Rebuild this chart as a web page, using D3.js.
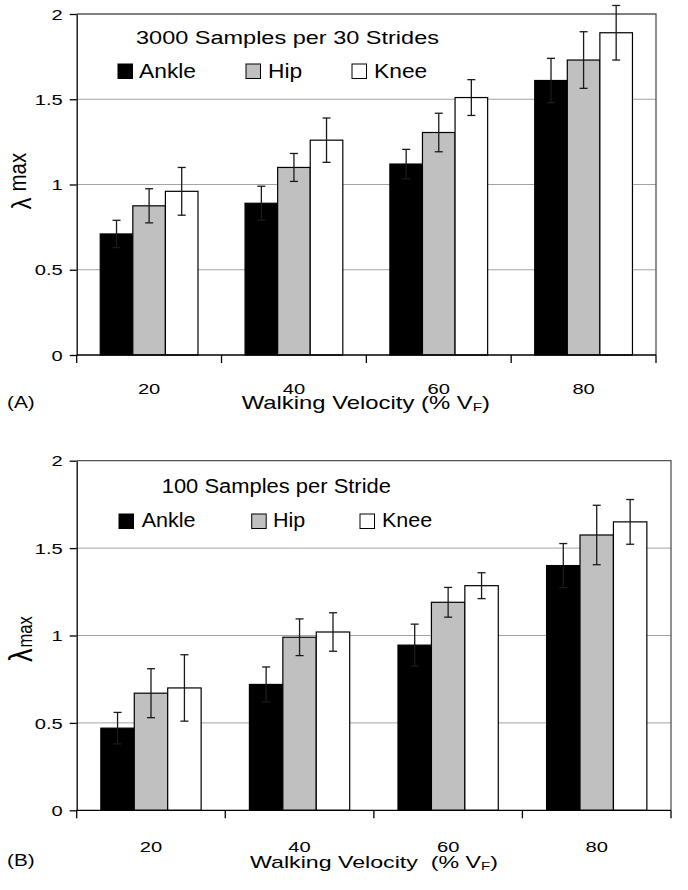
<!DOCTYPE html>
<html><head><meta charset="utf-8">
<script src="https://cdn.jsdelivr.net/npm/d3@7/dist/d3.min.js"></script>
<style>
body{margin:0;background:#fff}
svg{display:block}
text{font-family:"Liberation Sans",Arial,sans-serif;fill:#000;white-space:pre}
</style>
</head><body><svg id="c" width="688" height="890"></svg>
<script>
// ---------- data ----------
const categories = ["20", "40", "60", "80"];
const seriesNames = ["Ankle", "Hip", "Knee"];
const yTicks = [0, 0.5, 1, 1.5, 2];
const yTickLabels = ["0", "0.5", "1", "1.5", "2"];
const gridValues = [0.5, 1, 1.5];

// Panel (A): 3000 samples per 30 strides
const aAnkle    = [0.71, 0.89, 1.12, 1.61];
const aAnkleErr = [0.08, 0.10, 0.086, 0.13];
const aHip      = [0.875, 1.10, 1.305, 1.73];
const aHipErr   = [0.10, 0.082, 0.113, 0.166];
const aKnee     = [0.96, 1.26, 1.51, 1.89];
const aKneeErr  = [0.14, 0.13, 0.105, 0.16];

// Panel (B): 100 samples per stride
const bAnkle    = [0.47, 0.72, 0.945, 1.40];
const bAnkleErr = [0.09, 0.10, 0.12, 0.126];
const bHip      = [0.67, 0.99, 1.19, 1.575];
const bHipErr   = [0.14, 0.105, 0.085, 0.17];
const bKnee     = [0.70, 1.02, 1.285, 1.65];
const bKneeErr  = [0.19, 0.11, 0.074, 0.128];

const seriesFill = {Ankle: "#000000", Hip: "#c0c0c0", Knee: "#ffffff"};

// ---------- drawing ----------
const svg = d3.select("#c");

function stretchText(parent, x, y, str, size, sx, anchor) {
  return parent.append("text")
    .attr("transform", `translate(${x},${y}) scale(${sx},1)`)
    .attr("text-anchor", anchor || "start")
    .attr("font-size", size)
    .text(str);
}

function drawPanel(cfg, vals, errs) {
  const g = svg.append("g");
  const x0 = d3.scaleBand().domain(categories).range([cfg.left, cfg.right])
    .paddingInner(0.325).paddingOuter(0.1625);
  const x1 = d3.scaleBand().domain(seriesNames).range([0, x0.bandwidth()]);
  const y = d3.scaleLinear().domain([0, 2]).range([cfg.bottom, cfg.top]);

  // gridlines
  g.selectAll("line.grid").data(gridValues).join("line").attr("class", "grid")
    .attr("x1", cfg.left).attr("x2", cfg.right)
    .attr("y1", d => y(d)).attr("y2", d => y(d))
    .attr("stroke", "#a3a3a3").attr("stroke-width", 1);

  // frame top/right
  g.append("path")
    .attr("d", `M${cfg.left},${y(2)}H${cfg.right}V${y(0)}`)
    .attr("fill", "none").attr("stroke", "#555").attr("stroke-width", 1.3);

  const rows = [];
  categories.forEach((c, i) => seriesNames.forEach((s, j) => {
    rows.push({cat: c, s: s, v: vals[j][i], e: errs[j][i]});
  }));

  // bars
  g.selectAll("rect.bar").data(rows).join("rect").attr("class", "bar")
    .attr("x", d => x0(d.cat) + x1(d.s))
    .attr("width", x1.bandwidth())
    .attr("y", d => y(d.v))
    .attr("height", d => y(0) - y(d.v))
    .attr("fill", d => seriesFill[d.s])
    .attr("stroke", "#000").attr("stroke-width", 1.2);

  // error bars
  const eb = g.selectAll("g.err").data(rows).join("g").attr("class", "err")
    .attr("stroke", "#1a1a1a").attr("stroke-width", 1.3);
  const cx = d => x0(d.cat) + x1(d.s) + x1.bandwidth() / 2;
  eb.append("line").attr("x1", cx).attr("x2", cx)
    .attr("y1", d => y(d.v - d.e)).attr("y2", d => y(d.v + d.e));
  eb.append("line").attr("x1", d => cx(d) - 4).attr("x2", d => cx(d) + 4)
    .attr("y1", d => y(d.v + d.e)).attr("y2", d => y(d.v + d.e));
  eb.append("line").attr("x1", d => cx(d) - 4).attr("x2", d => cx(d) + 4)
    .attr("y1", d => y(d.v - d.e)).attr("y2", d => y(d.v - d.e));

  // y axis
  const yAxis = d3.axisLeft(y).tickValues(yTicks).tickSize(7).tickSizeOuter(0).tickFormat("");
  g.append("g").attr("transform", `translate(${cfg.left},0)`).call(yAxis)
    .call(s => s.selectAll("line,path").attr("stroke", "#000").attr("stroke-width", 1.3));
  yTicks.forEach((t, i) => {
    stretchText(g, cfg.left - 14, y(t) + 5.6, yTickLabels[i], 15.5, 1.3, "end");
  });

  // x axis: baseline + boundary ticks
  const step = x0.step(), gap = step - x0.bandwidth();
  const bounds = categories.map(c => x0(c) - gap / 2).concat([cfg.right]);
  g.append("line").attr("x1", cfg.left).attr("x2", cfg.right)
    .attr("y1", y(0)).attr("y2", y(0)).attr("stroke", "#000").attr("stroke-width", 1.3);
  g.selectAll("line.xt").data(bounds).join("line").attr("class", "xt")
    .attr("x1", d => d).attr("x2", d => d)
    .attr("y1", y(0)).attr("y2", y(0) + 8)
    .attr("stroke", "#000").attr("stroke-width", 1.3);
  categories.forEach(c => {
    stretchText(g, x0(c) + x0.bandwidth() / 2, y(0) + cfg.xLabelOff, c, 15.5, 1.3, "middle");
  });

  // axis title
  const at = g.append("text")
    .attr("transform", `translate(${cfg.xtX},${cfg.xtY}) scale(${cfg.xtSx},1)`)
    .attr("font-size", cfg.xtSize);
  at.append("tspan").text(cfg.xtText);
  at.append("tspan").attr("font-size", cfg.xtSize * 0.65).attr("dy", 1.5).text("F");
  at.append("tspan").attr("dy", -1.5).text(")");

  // panel label
  stretchText(g, 7, cfg.plY, cfg.panelLabel, 17, 1.22);

  // y axis title
  const yt = g.append("text")
    .attr("transform", `translate(${cfg.ytX},${cfg.ytY}) scale(${cfg.ytSx},1) rotate(-90)`);
  yt.append("tspan").attr("font-size", cfg.lamSize).text("λ");
  yt.append("tspan").attr("font-size", cfg.maxSize).attr("dx", cfg.maxDx).attr("dy", cfg.maxDy).text("max");

  // legend
  stretchText(g, cfg.titleX, cfg.titleY, cfg.title, cfg.titleSize, cfg.titleSx);
  seriesNames.forEach((s, j) => {
    g.append("rect").attr("x", cfg.legSqX[j]).attr("y", cfg.legSqY)
      .attr("width", 14.5).attr("height", 14.5)
      .attr("fill", seriesFill[s]).attr("stroke", "#000").attr("stroke-width", 1);
    stretchText(g, cfg.legTxX[j], cfg.legTxY, s, cfg.legSize, cfg.legSx);
  });
}

drawPanel({
  left: 76.7, right: 656, top: 14, bottom: 355, xLabelOff: 39,
  xtX: 241.7, xtY: 409, xtSx: 1.34, xtSize: 17.8, xtText: "Walking Velocity (% V",
  panelLabel: "(A)", plY: 408,
  ytX: 31, ytY: 209.5, ytSx: 1.15, lamSize: 24, maxSize: 20.5, maxDx: 6, maxDy: -4,
  title: "3000 Samples per 30 Strides", titleX: 136, titleY: 44, titleSize: 19, titleSx: 1.237,
  legSqX: [118, 246, 352], legSqY: 64, legTxX: [139, 268, 374], legTxY: 77.5, legSize: 20, legSx: 1.14
}, [aAnkle, aHip, aKnee], [aAnkleErr, aHipErr, aKneeErr]);

drawPanel({
  left: 76.7, right: 671, top: 460.7, bottom: 810.3, xLabelOff: 42,
  xtX: 250, xtY: 868, xtSx: 1.38, xtSize: 16.8, xtText: "Walking Velocity  (% V",
  panelLabel: "(B)", plY: 865.5,
  ytX: 31.5, ytY: 662, ytSx: 1.2, lamSize: 27, maxSize: 16.5, maxDx: 1, maxDy: 0,
  title: "100 Samples per Stride", titleX: 161.7, titleY: 492.7, titleSize: 21, titleSx: 1.045,
  legSqX: [119, 251.7, 360], legSqY: 514, legTxX: [141.7, 273, 382], legTxY: 527.3, legSize: 20.5, legSx: 1.05
}, [bAnkle, bHip, bKnee], [bAnkleErr, bHipErr, bKneeErr]);
</script>
</body></html>
